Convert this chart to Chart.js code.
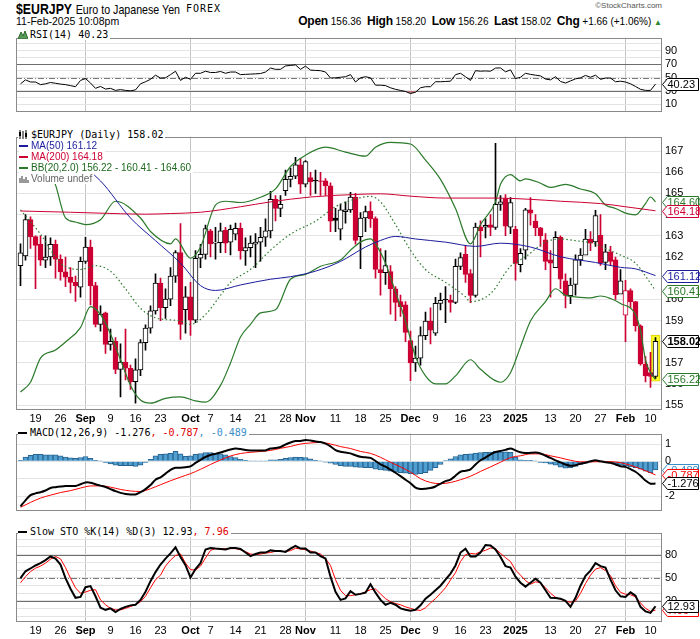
<!DOCTYPE html>
<html>
<head>
<meta charset="utf-8">
<script src="https://cdn.jsdelivr.net/npm/chart.js@4.4.1/dist/chart.umd.min.js"></script>
<style>
  html, body { margin: 0; padding: 0; background: #fff; }
  #wrap { position: relative; width: 700px; height: 639px; overflow: hidden; }
  canvas { position: absolute; left: 0; }
  .t { position: absolute; white-space: nowrap; color: #000; font-family: 'Liberation Sans', Arial, sans-serif; }
  .squeeze { transform: scaleX(0.82); transform-origin: 0 0; }
  .lg { position: absolute; white-space: nowrap; background: #fff; font: 10px/11px 'Liberation Sans', Arial, sans-serif; padding-right: 2px; }
  .mono { font-family: 'DejaVu Sans Mono', monospace; }
  .lg svg { vertical-align: -1px; margin-right: 2px; }
  .hb { font-weight: bold; font-size: 12px; letter-spacing: -0.2px; }
</style>
</head>
<body>
<div id="wrap">
  <div class="t squeeze" style="left:16px;top:0px;"><span style="font-size:15px;font-weight:bold;">$EURJPY</span> <span style="font-size:13px;">Euro to Japanese Yen</span></div>
  <div class="t mono" style="left:186px;top:3px;font-size:10px;letter-spacing:1px;">FOREX</div>
  <div class="t" style="right:38px;top:1px;font-size:8px;color:#555;">&copy;StockCharts.com</div>
  <div class="t" style="left:16px;top:15px;font-size:10.5px;">11-Feb-2025 10:08pm</div>
  <div class="t" style="right:38px;top:14px;font-size:10px;">
    <span class="hb">Open</span> 156.36&nbsp;
    <span class="hb">High</span> 158.20&nbsp;
    <span class="hb">Low</span> 156.26&nbsp;
    <span class="hb">Last</span> 158.02&nbsp;
    <span class="hb">Chg</span> +1.66 (+1.06%) <span style="color:#2a8a2a;font-size:8px">&#9650;</span>
  </div>

  <canvas id="rsi" width="700" height="93" style="top:28px"></canvas>
  <canvas id="price" width="700" height="297" style="top:127px"></canvas>
  <canvas id="macd" width="700" height="96" style="top:424px"></canvas>
  <canvas id="sto" width="700" height="116" style="top:523px"></canvas>

  <div class="lg mono" style="left:18px;top:29px">
    <svg width="10" height="9"><path d="M0 9 L3 2 L5 6 L7 1 L10 9 Z" fill="#5a9a5a" stroke="#2b6a2b" stroke-width="1"/></svg>RSI(14) 40.23</div>

  <div class="lg mono" style="left:18px;top:129px">
    <svg width="11" height="9"><path d="M2 0v9M5 1v8M8 0v9" stroke="#000"/><rect x="1" y="2" width="2" height="4" fill="#000"/><rect x="7" y="3" width="2" height="4" fill="#000"/></svg>$EURJPY (Daily) 158.02</div>
  <div class="lg" style="left:19px;top:140px;color:#1c1c9c"><svg width="10" height="9"><path d="M0 5H9" stroke="#1c1c9c" stroke-width="2"/></svg>MA(50) 161.12</div>
  <div class="lg" style="left:19px;top:151px;color:#cc0033"><svg width="10" height="9"><path d="M0 5H9" stroke="#cc0033" stroke-width="2"/></svg>MA(200) 164.18</div>
  <div class="lg" style="left:19px;top:162px;color:#1f6a1f"><svg width="10" height="9"><path d="M0 5H9" stroke="#2b7a2b" stroke-width="2"/></svg>BB(20,2.0) 156.22 - 160.41 - 164.60</div>
  <div class="lg" style="left:19px;top:173px;color:#666"><svg width="10" height="9"><path d="M1 9V4M3 9V2M5 9V5M7 9V3M9 9V6" stroke="#777" stroke-width="1.5"/></svg>Volume undef</div>

  <div class="lg mono" style="left:18px;top:427px">
    <svg width="10" height="9"><path d="M0 5H9" stroke="#000" stroke-width="2"/></svg>MACD(12,26,9) -1.276<span style="color:#e00000">, -0.787</span><span style="color:#3a8fc8">, -0.489</span></div>

  <div class="lg mono" style="left:18px;top:526px">
    <svg width="10" height="9"><path d="M0 5H9" stroke="#000" stroke-width="2"/></svg>Slow STO %K(14) %D(3) 12.93<span style="color:#e00000">, 7.96</span></div>
</div>

<script>
// ---- bars: 14-Aug-2024 .. 11-Feb-2025 (index 0..127) ----
const tickIdx  = [3, 8, 13, 18, 23, 28, 34, 38, 43, 48, 53, 57, 63, 68, 73, 78, 83, 88, 93, 99, 106, 111, 116, 121, 126];
const tickText = ['19', '26', 'Sep', '9', '16', '23', 'Oct', '7', '14', '21', '28', 'Nov', '11', '18', '25', 'Dec', '9', '16', '23', '2025', '13', '20', '27', 'Feb', '10'];
const monthIdx = [13, 34, 57, 78, 99, 121];

const opens = [161.59,162.05,163.76,162.96,162.60,161.85,162.00,162.60,161.90,161.30,
  161.05,160.80,160.57,161.79,162.47,160.65,158.82,159.36,157.87,158.02,
  156.70,157.04,156.75,156.12,156.67,157.96,158.64,159.46,160.77,159.61,
  160.01,161.10,162.21,159.51,160.12,159.02,161.94,162.12,163.23,162.65,
  162.67,163.26,162.70,163.08,163.35,162.29,162.44,162.60,162.70,162.93,
  163.23,164.72,164.29,165.13,165.66,165.81,166.35,165.43,165.75,165.62,
  165.59,165.59,165.36,163.84,163.31,164.14,164.22,164.83,162.96,163.84,
  164.17,163.81,161.41,161.26,161.31,160.50,159.89,159.74,158.06,157.00,
  157.23,158.29,158.98,158.41,159.81,160.00,159.97,159.86,161.56,162.12,
  161.22,160.19,163.41,163.41,163.52,163.40,164.48,164.75,163.41,163.30,
  161.64,162.32,164.22,163.69,163.38,162.81,161.86,161.50,162.93,160.88,
  160.17,160.71,161.86,162.09,162.85,162.71,163.02,161.74,162.24,161.86,
  160.25,159.25,160.42,159.89,158.75,156.95,156.54,156.36];
const highs = [162.62,164.00,163.90,163.00,163.00,163.00,162.90,162.80,162.10,162.00,
  161.50,161.10,162.00,162.93,162.80,160.80,159.70,159.40,158.60,158.20,
  157.90,158.60,156.90,157.20,158.10,158.80,159.70,161.20,161.00,160.50,
  161.50,162.30,163.58,160.60,160.80,162.30,162.60,163.50,163.30,163.40,
  163.60,163.40,163.50,163.60,163.60,162.90,163.00,163.10,163.40,163.80,
  165.10,164.90,164.90,166.10,166.20,166.70,166.65,166.55,166.00,166.10,
  166.00,165.70,165.50,164.30,164.50,164.60,165.05,165.00,164.10,164.40,
  164.60,163.90,162.40,162.30,161.60,160.60,160.20,159.90,158.50,157.80,
  158.70,159.40,159.60,160.10,160.30,160.60,160.20,161.90,162.20,162.55,
  161.40,163.60,163.70,163.80,164.00,167.36,164.90,164.95,164.80,163.45,
  162.40,164.30,164.80,164.00,163.40,163.10,162.30,163.20,163.00,161.20,
  161.00,162.10,162.40,163.30,163.20,164.20,164.00,162.60,162.50,162.00,
  161.40,160.90,160.50,159.90,158.80,157.30,157.50,158.20];
const lows = [160.65,161.85,162.40,160.50,161.60,161.50,161.60,161.00,160.90,160.60,
  160.30,159.90,160.10,161.70,159.74,158.70,158.50,157.45,157.60,156.50,
  155.40,156.20,155.75,155.10,156.40,157.60,158.40,159.30,159.00,159.10,
  159.70,160.80,158.11,158.40,158.30,158.90,161.50,161.90,162.00,161.90,
  162.20,162.20,162.10,162.80,161.90,161.60,162.00,161.50,161.80,162.50,
  162.90,163.70,163.90,164.90,165.30,165.70,165.00,165.30,164.90,165.00,
  164.90,164.90,163.20,163.20,162.80,163.60,164.10,162.60,161.45,163.20,
  163.40,161.00,160.20,160.70,159.30,159.00,159.20,158.00,156.16,156.60,
  156.90,158.10,157.90,158.30,159.50,158.90,159.40,159.80,161.40,160.80,
  159.85,160.10,162.00,162.90,163.00,163.30,164.20,163.00,163.10,160.90,
  161.30,161.90,163.50,163.00,162.50,161.40,160.10,161.50,160.50,159.60,
  159.80,160.20,161.60,162.20,162.30,162.50,161.60,161.40,161.60,160.00,
  160.30,158.00,159.60,158.50,156.90,156.10,155.85,156.26];
const closes = [162.20,163.76,162.96,162.55,161.85,162.00,162.60,161.90,161.30,161.05,
  160.80,160.65,161.79,162.47,160.65,158.82,159.31,157.87,158.02,156.70,
  157.04,156.75,156.12,156.67,157.96,158.64,159.46,160.77,159.61,160.01,
  161.10,162.21,158.82,160.12,159.02,161.94,162.12,163.34,162.62,162.70,
  163.23,162.65,163.31,163.35,162.29,162.44,162.65,162.70,162.93,163.23,
  164.72,164.29,164.48,165.66,165.81,166.35,165.43,166.50,165.55,165.59,
  165.57,165.36,163.69,163.73,164.22,164.22,164.83,162.78,163.84,164.14,
  163.81,161.41,161.26,161.60,160.50,159.86,159.66,158.44,157.00,157.23,
  158.29,158.98,158.55,159.81,159.96,159.97,159.86,161.56,161.97,161.18,
  160.19,163.41,163.23,163.49,163.40,164.48,164.60,163.45,164.57,161.70,
  162.17,164.22,164.07,163.38,163.00,161.79,161.71,162.93,160.95,160.19,
  160.68,161.86,162.09,162.85,162.65,163.95,161.71,162.24,161.79,160.22,
  160.87,160.42,159.89,158.75,156.95,156.39,156.36,158.02];

// ---- overlays (read at sample bars) ----
const ma50Idx = [0, 5, 11, 16, 22, 27, 32, 36, 39, 44, 50, 54, 59, 64, 69, 72, 75, 79, 85, 91, 96, 102, 108, 115, 120, 123, 127];
const ma50    = [168.78,167.71,166.57,165.59,163.84,162.77,161.71,160.65,160.42,160.68,160.95,161.07,161.33,161.79,162.47,162.78,162.97,162.85,162.70,162.50,162.65,162.47,162.01,161.74,161.51,161.44,161.12];
const ma200Idx = [0, 10, 20, 25, 30, 36, 44, 50, 58, 67, 72, 78, 85, 95, 102, 108, 116, 121, 127];
const ma200    = [164.17,164.11,164.04,164.02,164.05,164.11,164.37,164.60,164.83,164.95,164.98,164.87,164.78,164.78,164.72,164.63,164.52,164.37,164.18];
const bbUpIdx = [0, 4, 7, 9, 11, 13, 16, 19, 24, 26, 30, 31, 34, 36, 39, 41, 44, 48, 51, 54, 57, 61, 65, 69, 71, 74, 78, 81, 84, 87, 90, 92, 95, 96, 98, 100, 101, 104, 106, 109, 112, 115, 117, 119, 121, 123, 125, 126, 127];
const bbUp    = [168.30,167.00,165.40,163.84,163.65,163.53,163.76,164.63,163.84,163.20,162.62,162.85,161.94,162.47,164.45,164.63,164.57,164.82,165.21,166.27,166.80,167.18,166.95,166.76,167.18,167.41,167.33,166.57,165.66,164.29,162.62,163.53,164.60,165.43,165.89,165.59,165.69,165.48,165.28,165.43,165.21,164.98,164.45,164.29,164.07,163.99,164.52,164.83,164.60];
const bbMidIdx = [0, 4, 8, 12, 15, 18, 21, 24, 27, 32, 34, 37, 40, 42, 46, 50, 54, 59, 63, 67, 70, 72, 75, 78, 81, 85, 89, 90, 94, 98, 101, 105, 108, 111, 115, 117, 120, 123, 125, 127];
const bbMid    = [164.22,163.08,161.71,161.41,161.59,161.33,160.50,159.58,159.13,158.98,158.82,159.28,160.19,160.80,161.41,162.32,163.08,163.69,164.37,164.74,164.86,164.60,163.53,162.32,161.41,160.80,160.12,159.89,160.27,161.56,162.01,162.70,162.85,162.77,162.62,162.40,162.09,161.71,161.10,160.41];
const bbLowIdx = [0, 2, 4, 7, 9, 12, 14, 16, 18, 20, 22, 24, 26, 29, 32, 35, 37, 40, 42, 44, 46, 48, 51, 54, 57, 60, 64, 66, 68, 70, 71, 73, 75, 77, 79, 81, 83, 85, 87, 90, 92, 96, 98, 100, 102, 105, 107, 109, 111, 114, 116, 118, 120, 123, 124, 125, 126, 127];
const bbLow    = [155.63,156.09,157.23,157.61,157.99,158.67,159.66,159.28,158.37,157.15,155.94,155.25,155.10,155.33,155.40,155.21,155.15,155.94,157.00,158.22,158.82,159.36,159.51,160.95,161.18,161.56,161.86,162.32,162.70,162.85,162.62,161.71,160.34,158.98,157.30,156.39,156.01,156.01,156.39,157.15,156.70,156.09,156.54,157.76,158.98,159.89,160.50,160.19,160.12,160.07,160.16,160.04,159.81,159.28,158.52,157.15,156.54,156.22];

// ---- RSI(14), one value per bar ----
const rsi = [40.6,46.5,43.3,43.3,39.4,40.6,42.6,41.4,40.2,39.4,
  37.9,36.3,45.7,48.4,41.8,33.9,36.7,32.8,33.9,30.8,
  32.0,30.8,30.2,31.6,40.6,43.7,47.3,53.5,49.2,49.6,
  54.3,59.4,45.7,50.4,47.3,56.3,56.3,59.4,57.5,57.5,
  59.0,56.3,58.2,58.2,54.3,54.7,55.1,55.5,55.9,58.2,
  64.1,62.2,62.2,67.3,68.0,68.8,62.2,66.9,61.0,60.6,
  60.2,58.2,49.2,49.6,50.4,51.2,54.3,43.3,49.6,51.2,
  49.6,38.6,38.6,37.9,34.7,32.4,30.8,29.2,26.1,28.1,
  34.7,36.3,36.3,43.7,43.7,44.1,44.5,54.3,56.3,51.2,
  45.7,60.2,59.4,59.8,59.4,64.1,64.3,58.5,61.4,48.4,
  50.4,56.3,54.7,53.5,52.4,47.7,46.5,51.2,44.1,41.8,
  44.9,48.0,49.6,53.1,50.4,53.5,47.3,49.2,49.2,43.7,
  44.5,43.3,40.6,36.7,32.4,30.8,30.8,40.23];

// ---- MACD(12,26,9) ----
const macd = [-2.60,-2.25,-1.95,-1.85,-1.78,-1.68,-1.54,-1.49,-1.45,-1.42,
  -1.42,-1.42,-1.32,-1.22,-1.23,-1.32,-1.40,-1.48,-1.60,-1.72,
  -1.82,-1.88,-1.91,-1.91,-1.78,-1.60,-1.37,-1.06,-0.92,-0.71,
  -0.49,-0.37,-0.37,-0.34,-0.29,-0.09,0.09,0.25,0.37,0.43,
  0.51,0.60,0.68,0.74,0.71,0.65,0.63,0.63,0.63,0.63,
  0.74,0.77,0.83,0.97,1.09,1.17,1.17,1.23,1.20,1.15,
  1.11,1.02,0.86,0.65,0.55,0.51,0.46,0.35,0.26,0.23,
  0.20,0.02,-0.17,-0.31,-0.48,-0.66,-0.85,-1.06,-1.26,-1.52,
  -1.60,-1.58,-1.54,-1.45,-1.29,-1.14,-1.05,-0.83,-0.60,-0.54,
  -0.46,-0.18,0.06,0.22,0.40,0.54,0.60,0.66,0.74,0.63,
  0.52,0.48,0.49,0.51,0.45,0.32,0.20,0.06,-0.06,-0.18,
  -0.25,-0.22,-0.14,-0.08,0.00,0.06,0.00,-0.05,-0.08,-0.18,
  -0.28,-0.32,-0.45,-0.60,-0.83,-1.11,-1.29,-1.276];
const signalIdx = [0,2,4,6,8,10,12,14,16,18,20,22,24,26,28,30,32,34,36,38,40,42,44,46,48,50,52,54,56,58,60,62,64,66,68,70,72,74,76,78,80,82,84,86,88,90,92,94,96,98,100,102,104,106,108,110,112,114,116,118,120,122,124,126,127];
const signal = [-2.65,-2.37,-2.12,-1.95,-1.80,-1.69,-1.54,-1.42,-1.41,-1.49,
  -1.62,-1.71,-1.74,-1.58,-1.35,-1.12,-0.91,-0.71,-0.46,-0.18,
  0.08,0.31,0.45,0.52,0.57,0.63,0.75,0.86,1.00,1.06,
  1.09,1.00,0.85,0.74,0.57,0.46,0.23,-0.05,-0.32,-0.62,
  -1.00,-1.22,-1.29,-1.22,-1.06,-0.86,-0.58,-0.32,-0.05,0.22,
  0.32,0.43,0.43,0.32,0.20,0.06,-0.03,-0.03,-0.02,-0.02,
  -0.08,-0.23,-0.43,-0.66,-0.787];
const hist = [0.06,0.25,0.35,0.40,0.40,0.38,0.37,0.37,0.32,0.25,
  0.20,0.17,0.22,0.28,0.17,0.06,0.02,-0.06,-0.15,-0.22,
  -0.25,-0.25,-0.25,-0.29,-0.22,-0.06,0.12,0.32,0.40,0.43,
  0.46,0.58,0.43,0.29,0.32,0.40,0.45,0.51,0.51,0.48,
  0.43,0.37,0.28,0.22,0.12,0.06,0.02,0.02,0.02,0.02,
  0.09,0.09,0.12,0.17,0.22,0.25,0.23,0.22,0.14,0.06,
  0.02,-0.05,-0.11,-0.18,-0.25,-0.29,-0.29,-0.34,-0.35,-0.37,
  -0.37,-0.45,-0.49,-0.52,-0.57,-0.62,-0.65,-0.68,-0.71,-0.75,
  -0.71,-0.65,-0.52,-0.37,-0.18,0.05,0.15,0.28,0.37,0.40,
  0.43,0.48,0.51,0.52,0.54,0.58,0.55,0.55,0.52,0.25,
  0.09,0.06,0.06,0.02,-0.06,-0.09,-0.17,-0.22,-0.34,-0.40,
  -0.37,-0.29,-0.18,-0.11,-0.03,0.02,-0.03,-0.06,-0.09,-0.14,
  -0.22,-0.25,-0.32,-0.37,-0.45,-0.57,-0.65,-0.489];

// ---- Slow STO %K(14) %D(3) ----
const stoK = [49.4,58.4,62.0,65.9,69.0,72.9,77.6,74.9,67.1,49.4,
  35.7,23.9,25.1,37.7,39.2,25.9,11.0,8.3,10.2,5.5,
  9.4,12.2,14.1,14.9,21.2,31.8,45.5,57.3,67.1,74.9,
  81.6,89.4,76.9,66.3,50.2,61.2,69.0,86.7,88.6,87.8,
  87.4,86.7,88.6,88.6,87.4,82.7,78.0,80.8,82.7,82.7,
  85.5,84.7,84.7,83.5,87.8,91.4,87.8,87.8,82.7,82.7,
  78.0,74.9,51.4,31.8,21.2,23.2,32.5,27.9,29.0,30.6,
  41.6,30.6,21.2,14.9,17.3,14.9,10.2,8.3,7.1,8.3,
  14.1,22.8,27.9,33.7,39.6,47.5,55.3,65.9,82.7,87.8,
  77.6,77.6,82.7,92.5,91.8,86.7,76.9,65.1,63.1,51.4,
  43.5,38.4,43.5,48.6,43.5,33.7,23.9,23.6,22.8,20.0,
  12.2,23.9,39.6,52.6,59.2,69.0,65.1,63.1,47.5,33.7,
  25.9,25.1,31.0,26.7,12.2,6.3,4.3,12.93];
const stoD = [43.5,51.4,58.0,62.4,65.1,69.0,74.1,77.6,74.5,63.1,
  49.4,36.9,29.8,31.4,33.7,34.5,21.2,14.9,10.2,8.3,
  8.3,10.2,12.6,14.9,18.8,25.9,36.9,47.5,53.3,65.1,
  72.9,78.8,80.8,69.0,60.4,60.0,65.1,75.7,85.5,87.8,
  87.4,87.8,87.8,87.8,86.3,83.9,80.8,80.0,80.8,82.0,
  82.7,84.3,83.9,84.3,85.1,88.2,87.4,86.3,84.7,82.7,
  80.8,74.9,65.9,47.5,33.7,26.7,26.7,27.9,29.0,31.8,
  34.5,35.3,29.0,22.8,18.8,16.5,14.9,12.2,10.2,8.3,
  7.5,11.0,17.3,22.8,29.8,36.9,47.1,56.5,71.0,80.0,
  81.6,80.8,83.9,85.5,88.6,87.8,81.6,76.1,71.0,60.0,
  53.3,46.3,41.6,44.7,43.5,36.9,29.8,24.7,22.0,19.6,
  18.1,19.6,29.8,42.4,53.3,61.2,63.1,59.2,52.6,39.6,
  31.0,28.6,27.9,25.1,17.3,10.2,6.3,7.96];

// ---- styling ----
const RED = '#cc0033', NAVY = '#1c1c9c', GREEN = '#2b7a2b', BLUE = '#3a8fc8';
const X_MIN = -0.9, X_MAX = 128.3;
Chart.defaults.font.family = "'Liberation Sans', Arial, sans-serif";
Chart.defaults.font.size = 11;
Chart.defaults.color = '#000';
Chart.defaults.animation = false;

const perBar = arr => arr.map((v, i) => ({ x: i, y: v }));
const atIdx = (idx, arr) => idx.map((x, k) => ({ x: x, y: arr[k] }));
const last = arr => arr[arr.length - 1];

function xAxis(showLabels) {
  return {
    type: 'linear', min: X_MIN, max: X_MAX, offset: false,
    afterBuildTicks: s => { s.ticks = tickIdx.map(v => ({ value: v })); },
    afterFit: s => { s.height = showLabels ? (s.chart.canvas.id === 'sto' ? 17 : 14) : 0; },
    grid: { drawTicks: false, offset: false,
      color: c => (c.tick && monthIdx.includes(c.tick.value)) ? '#c4c4c4' : 'rgba(0,0,0,0)' },
    border: { display: false },
    ticks: { display: showLabels, padding: 2, autoSkip: false, maxRotation: 0,
      font: c => ({ size: 11, weight: (c.tick && monthIdx.includes(c.tick.value)) ? 'bold' : 'normal' }),
      callback: v => tickText[tickIdx.indexOf(v)] }
  };
}

function yAxis(min, max, gridVals, labelVals) {
  return {
    position: 'right', min: min, max: max,
    afterBuildTicks: s => { s.ticks = gridVals.map(v => ({ value: v })); },
    afterFit: s => { s.width = 38; },
    grid: { drawTicks: false, color: '#e4e4e4' },
    border: { display: false },
    ticks: { padding: 3, autoSkip: false,
      callback: v => labelVals.includes(v) ? String(v) : '' }
  };
}

// panel frame, reference lines and value tags
const panelPlugin = {
  id: 'panel',
  beforeDatasetsDraw(chart, args, opts) {
    const a = chart.chartArea, ys = chart.scales.y, ctx = chart.ctx;
    ctx.save();
    (opts.refs || []).forEach(r => {
      const y = Math.round(ys.getPixelForValue(r.v)) + 0.5;
      ctx.strokeStyle = r.color; ctx.lineWidth = 1;
      ctx.setLineDash(r.dash || []);
      ctx.beginPath(); ctx.moveTo(a.left, y); ctx.lineTo(a.right, y); ctx.stroke();
    });
    ctx.restore();
  },
  afterDraw(chart, args, opts) {
    const a = chart.chartArea, ys = chart.scales.y, ctx = chart.ctx;
    ctx.save();
    ctx.strokeStyle = '#8a8a8a'; ctx.lineWidth = 1;
    ctx.strokeRect(Math.round(a.left) + 0.5, Math.round(a.top) + 0.5, Math.round(a.width) - 1, Math.round(a.height) - 1);
    (opts.tags || []).forEach(t => {
      const y = Math.round(ys.getPixelForValue(t.v)) + 0.5;
      const x0 = Math.round(a.right) + 0.5, h = 6;
      ctx.beginPath();
      ctx.moveTo(x0, y); ctx.lineTo(x0 + 5, y - h); ctx.lineTo(698.5, y - h);
      ctx.lineTo(698.5, y + h); ctx.lineTo(x0 + 5, y + h); ctx.closePath();
      ctx.fillStyle = '#fff'; ctx.fill();
      ctx.strokeStyle = t.color; ctx.stroke();
      ctx.fillStyle = t.color;
      ctx.font = (t.bold ? 'bold ' : '') + "11px 'Liberation Sans', Arial, sans-serif";
      ctx.textBaseline = 'middle'; ctx.textAlign = 'left';
      ctx.fillText(t.text, x0 + 5, y + 0.5);
    });
    ctx.restore();
  }
};

const baseOpts = (scales, panel) => ({
  responsive: false, maintainAspectRatio: false, animation: false,
  layout: { padding: { left: 16, right: 0, top: 0, bottom: 0 }, autoPadding: false },
  plugins: { legend: { display: false }, tooltip: { enabled: false }, panel: panel },
  scales: scales
});

const lineDs = (data, color, width, extra) => Object.assign({
  type: 'line', data: data, borderColor: color, borderWidth: width, pointRadius: 0,
  fill: false, order: 0
}, extra || {});

// ---- RSI ----
new Chart(document.getElementById('rsi'), {
  type: 'line',
  data: { datasets: [
    lineDs(perBar(rsi), '#000', 1, { tension: 0,
      fill: { target: { value: 30 }, above: 'rgba(0,0,0,0)', below: '#c27878' } })
  ] },
  options: baseOpts({
    x: xAxis(false),
    y: yAxis(-0.5, 109.5, [0, 10, 20, 30, 40, 50, 60, 70, 80, 90, 100], [10, 30, 50, 70, 90])
  }, {
    refs: [ { v: 30, color: '#6e6e6e' }, { v: 70, color: '#6e6e6e' }, { v: 50, color: '#7a7a7a', dash: [6, 2, 1, 2] } ],
    tags: [ { v: last(rsi), text: last(rsi).toFixed(2), color: '#000' } ]
  }),
  plugins: [panelPlugin]
});

// ---- price ----
const candleColor = i => (i > 0 && closes[i] < closes[i - 1]) ? RED : '#000';
new Chart(document.getElementById('price'), {
  type: 'bar',
  data: { datasets: [
    lineDs(atIdx(ma50Idx, ma50), NAVY, 1, { cubicInterpolationMode: 'monotone' }),
    lineDs(atIdx(ma200Idx, ma200), RED, 1, { cubicInterpolationMode: 'monotone' }),
    lineDs(atIdx(bbUpIdx, bbUp), GREEN, 1.2, { cubicInterpolationMode: 'monotone' }),
    lineDs(atIdx(bbMidIdx, bbMid), GREEN, 1.2, { cubicInterpolationMode: 'monotone', borderDash: [1.5, 2.5] }),
    lineDs(atIdx(bbLowIdx, bbLow), GREEN, 1.2, { cubicInterpolationMode: 'monotone' }),
    { type: 'bar', grouped: false, order: 2, barThickness: 5,
      data: opens.map((o, i) => ({ x: i, y: [o, closes[i]] })),
      backgroundColor: c => closes[c.dataIndex] > opens[c.dataIndex] ? '#fff' : candleColor(c.dataIndex),
      borderColor: c => candleColor(c.dataIndex), borderWidth: 1, borderSkipped: false },
    { type: 'bar', grouped: false, order: 3, barThickness: 1,
      data: lows.map((l, i) => ({ x: i, y: [l, highs[i]] })),
      backgroundColor: c => candleColor(c.dataIndex) },
    { type: 'bar', grouped: false, order: 4, barThickness: 9,
      data: [ { x: 127, y: [lows[127] - 0.12, highs[127] + 0.12] } ],
      backgroundColor: '#ffff30', borderColor: '#e0d000', borderWidth: 1, borderSkipped: false }
  ] },
  options: baseOpts({
    x: xAxis(true),
    y: yAxis(154.78, 167.68, [155, 156, 157, 158, 159, 160, 161, 162, 163, 164, 165, 166, 167],
      [155, 156, 157, 158, 159, 160, 161, 162, 163, 164, 165, 166, 167])
  }, {
    tags: [
      { v: last(bbUp), text: last(bbUp).toFixed(2), color: GREEN },
      { v: last(ma200), text: last(ma200).toFixed(2), color: RED },
      { v: last(ma50), text: last(ma50).toFixed(2), color: NAVY },
      { v: last(bbMid), text: last(bbMid).toFixed(2), color: GREEN },
      { v: last(bbLow), text: last(bbLow).toFixed(2), color: GREEN },
      { v: last(closes), text: last(closes).toFixed(2), color: '#000', bold: true }
    ]
  }),
  plugins: [panelPlugin]
});

// ---- MACD ----
new Chart(document.getElementById('macd'), {
  type: 'bar',
  data: { datasets: [
    lineDs(perBar(macd), '#000', 2, { tension: 0.3 }),
    lineDs(atIdx(signalIdx, signal), '#ff0000', 1, { cubicInterpolationMode: 'monotone' }),
    { type: 'bar', grouped: false, order: 2, barThickness: 5, data: perBar(hist),
      backgroundColor: '#4f9fd2', borderColor: '#2a6490', borderWidth: 1, borderSkipped: 'start' }
  ] },
  options: baseOpts({
    x: xAxis(false),
    y: yAxis(-2.83, 1.6, [-2, -1, 0, 1], [-2, -1, 0, 1])
  }, {
    tags: [
      { v: last(hist), text: last(hist).toFixed(3), color: BLUE },
      { v: last(signal), text: last(signal).toFixed(3), color: '#ff0000' },
      { v: last(macd), text: last(macd).toFixed(3), color: '#000' }
    ]
  }),
  plugins: [panelPlugin]
});

// ---- Slow stochastic ----
new Chart(document.getElementById('sto'), {
  type: 'line',
  data: { datasets: [
    lineDs(perBar(stoK), '#000', 2),
    lineDs(perBar(stoD), '#ff0000', 1)
  ] },
  options: baseOpts({
    x: xAxis(true),
    y: yAxis(-7.5, 108.6, [0, 10, 20, 30, 40, 50, 60, 70, 80, 90, 100], [20, 50, 80])
  }, {
    refs: [ { v: 20, color: '#6e6e6e' }, { v: 80, color: '#6e6e6e' }, { v: 50, color: '#7a7a7a', dash: [6, 2, 1, 2] } ],
    tags: [
      { v: last(stoD), text: last(stoD).toFixed(2), color: '#ff0000' },
      { v: last(stoK), text: last(stoK).toFixed(2), color: '#000' }
    ]
  }),
  plugins: [panelPlugin]
});
</script>
</body>
</html>
